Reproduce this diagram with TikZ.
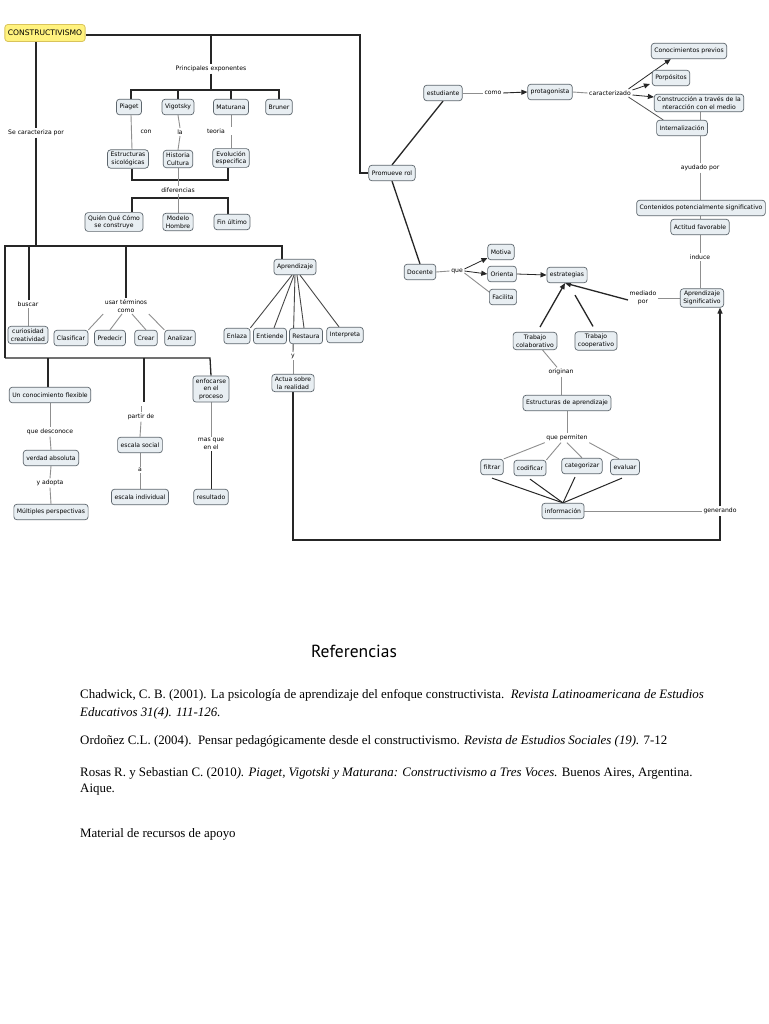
\documentclass[tikz,border=0pt]{standalone}
\usepackage{fontspec}
\setmainfont{Liberation Serif}
\newfontfamily\dv{DejaVu Sans}
\newfontfamily\hd{PT Sans}
\usetikzlibrary{arrows.meta,calc,backgrounds}
\definecolor{fl}{HTML}{E8EEF2}
\definecolor{bd}{HTML}{5E676E}
\definecolor{yfl}{HTML}{FFF27E}
\definecolor{ybd}{HTML}{D9C35A}
\definecolor{dk}{HTML}{262626}
\definecolor{gr}{HTML}{8F8F8F}
\tikzset{
  cbox/.style={draw=bd, fill=fl, rounded corners=3pt, font=\dv\fontsize{6.1}{7.6}\selectfont, inner xsep=3pt, inner ysep=2.5pt, align=center, minimum height=15.5pt, line width=0.7pt},
  lab/.style={font=\dv\fontsize{6.1}{7.6}\selectfont, inner sep=1.5pt, align=center},
  blk/.style={draw=dk, line width=1.3pt},
  gry/.style={draw=gr, line width=0.9pt},
  arr/.style={-{Triangle[length=6pt,width=5pt]}},
  refl/.style={anchor=base west, inner sep=0pt, font=\fontsize{12.9}{15}\selectfont}
}
\begin{document}
\begin{tikzpicture}[x=1pt,y=-1pt]
\useasboundingbox (0,0) rectangle (768,1024);

% ---------- nodes ----------
\node[draw=ybd, fill=yfl, rounded corners=3pt, line width=0.8pt, font=\dv\fontsize{7.6}{9}\selectfont, inner xsep=3pt, minimum height=17pt] (c) at (45,33) {CONSTRUCTIVISMO};
\node[lab] (pe) at (211,69) {Principales exponentes};
\node[cbox] (piaget) at (129,107) {Piaget};
\node[cbox] (vig) at (178,107) {Vigotsky};
\node[cbox] (mat) at (231,107) {Maturana};
\node[cbox] (bru) at (279,107) {Bruner};
\node[lab] (con) at (146,132) {con};
\node[lab] (la) at (180,132) {la};
\node[lab] (teo) at (216,131) {teoria};
\node[cbox] (est) at (128,159) {Estructuras\\sicológicas};
\node[cbox] (hist) at (178,159) {Historia\\Cultura};
\node[cbox] (evo) at (231,158) {Evolución\\especifica};
\node[lab] (dif) at (178,190) {diferencias};
\node[cbox] (quien) at (114,222) {Quién Qué Cómo\\se construye};
\node[cbox] (modelo) at (178,222) {Modelo\\Hombre};
\node[cbox] (fin) at (232,222) {Fin último};
\node[lab] (scp) at (36,133) {Se caracteriza por};

\node[lab] (buscar) at (28,304) {buscar};
\node[cbox] (curi) at (28,335) {curiosidad\\creatividad};
\node[lab] (usar) at (126,306) {usar términos\\como};
\node[cbox] (clas) at (71,338) {Clasificar};
\node[cbox] (pred) at (110,338) {Predecir};
\node[cbox] (crear) at (146,338) {Crear};
\node[cbox] (anal) at (180,338) {Analizar};
\node[cbox] (apr) at (295,267) {Aprendizaje};
\node[cbox] (enl) at (237,336) {Enlaza};
\node[cbox] (ent) at (270,336) {Entiende};
\node[cbox] (rest) at (306,336) {Restaura};
\node[cbox] (interp) at (345,335) {Interpreta};
\node[lab] (ylab) at (293,356) {y};
\node[cbox] (actua) at (293,383) {Actua sobre\\la realidad};

\node[cbox] (ucf) at (50,395) {Un conocimiento flexible};
\node[lab] (qd) at (50,432) {que desconoce};
\node[cbox] (verdad) at (51,458) {verdad absoluta};
\node[lab] (ya) at (50,483) {y adopta};
\node[cbox] (mult) at (51,512) {Múltiples perspectivas};
\node[lab] (partir) at (141,417) {partir de};
\node[cbox] (esoc) at (140,445) {escala social};
\node[lab] (alab) at (140,470) {a};
\node[cbox] (eind) at (140,497) {escala individual};
\node[cbox] (enf) at (211,389) {enfocarse\\en el\\proceso};
\node[lab] (mq) at (211,444) {mas que\\en el};
\node[cbox] (res) at (211,497) {resultado};

\node[cbox] (prom) at (392,173) {Promueve rol};
\node[cbox] (estu) at (443,93) {estudiante};
\node[lab] (como) at (493,93) {como};
\node[cbox] (prot) at (550,92) {protagonista};
\node[lab] (car) at (610,93) {caracterizado};
\node[cbox] (cp) at (689,51) {Conocimientos previos};
\node[cbox] (porp) at (671,78) {Porpósitos};
\node[cbox] (constr) at (699,103) {Construcción a través de la\\nteracción con el medio};
\node[cbox] (intern) at (682,128) {Internalización};
\node[lab] (aypor) at (700,168) {ayudado por};
\node[cbox] (cont) at (701,208) {Contenidos potencialmente significativo};
\node[cbox] (act) at (700,227) {Actitud favorable};
\node[lab] (induce) at (700,257) {induce};
\node[cbox] (asig) at (702,298) {Aprendizaje\\Significativo};

\node[cbox] (doc) at (420,272) {Docente};
\node[lab] (que) at (457,271) {que};
\node[cbox] (motiva) at (501,252) {Motiva};
\node[cbox] (orienta) at (502,274) {Orienta};
\node[cbox] (facilita) at (503,297) {Facilita};
\node[cbox] (estr) at (567,275) {estrategias};
\node[lab] (mp) at (643,298) {mediado\\por};
\node[cbox] (tcol) at (535,341) {Trabajo\\colaborativo};
\node[cbox] (tcoop) at (596,341) {Trabajo\\cooperativo};
\node[lab] (orig) at (561,372) {originan};
\node[cbox] (estap) at (567,403) {Estructuras de aprendizaje};
\node[lab] (qp) at (567,438) {que permiten};
\node[cbox] (filt) at (492,467) {filtrar};
\node[cbox] (cod) at (530,468) {codificar};
\node[cbox] (cat) at (582,466) {categorizar};
\node[cbox] (eval) at (625,467) {evaluar};
\node[cbox] (inf) at (563,511) {información};
\node[lab] (gen) at (720,511) {generando};

% ---------- junction coordinates ----------
\coordinate (jR) at (360,35);
\coordinate (jPE) at (211,35);
\coordinate (b1) at (0,90);
\coordinate (b2) at (0,180);
\coordinate (b3) at (0,198);
\coordinate (h1) at (0,246);
\coordinate (jL) at (5,246);
\coordinate (jL2) at (5,358);
\coordinate (jB) at (29,246);
\coordinate (jU) at (126,246);
\coordinate (jA) at (282,246);
\coordinate (jU2) at (48,358);
\coordinate (jP) at (144,358);
\coordinate (jE) at (210,358);
\coordinate (bot) at (0,540);

% ---------- connectors ----------
\begin{scope}[on background layer]
\fill[white] (0,0) rectangle (768,1024);
\draw[blk] (c.east |- jR) -- (jR) |- (prom.west);
\draw[blk] (jPE) -- (pe.north);
\draw[blk] (pe.south) -- (pe.south |- b1);
\draw[blk] ([xshift=2pt]piaget.north) |- (bru.north |- b1) -- (bru.north);
\draw[blk] (vig.north) -- (vig.north |- b1);
\draw[blk] (mat.north) -- (mat.north |- b1);
\draw[gry] ([xshift=2pt]piaget.south) -- ([xshift=4pt]est.north);
\draw[gry] (vig.south) -- (la.north);
\draw[gry] (la.south) -- (hist.north);
\draw[gry] (mat.south) -- (teo.north -| mat.south);
\draw[gry] (teo.south -| mat.south) -- (evo.north);
\draw[blk] ([xshift=4pt]est.south) |- ([xshift=-3pt]evo.south |- b2) -- ([xshift=-3pt]evo.south);
\draw[gry] (hist.south) -- (dif.north);
\draw[blk] ([xshift=18pt]quien.north) |- ([xshift=-4pt]fin.north |- b3) -- ([xshift=-4pt]fin.north);
\draw[gry] (dif.south) -- (modelo.north);

\draw[blk] (scp.north |- c.south) -- (scp.north);
\draw[blk] (scp.south) -- (scp.south |- h1);
\draw[blk] (jL2) -- (jL) -- (jA) -- (apr.north -| jA);
\draw[blk] (jB) -- (buscar.north -| jB);
\draw[gry] (buscar.south) -- (curi.north);
\draw[blk] (jU) -- (usar.north);
\draw[gry] (usar.south west) -- (clas.north east);
\draw[gry] ([xshift=-4pt]usar.south) -- (pred.north);
\draw[gry] ([xshift=6pt]usar.south) -- (crear.north);
\draw[gry] (usar.south east) -- (anal.north west);
\draw[dk!85, line width=0.9pt] ([xshift=-3pt]apr.south) -- (enl.north east);
\draw[dk!85, line width=0.9pt] ([xshift=-1pt]apr.south) -- ([xshift=4pt]ent.north);
\draw[dk!85, line width=0.9pt] (apr.south) -- (ylab.north);
\draw[dk!85, line width=0.9pt] ([xshift=2pt]apr.south) -- ([xshift=-2pt]rest.north);
\draw[dk!85, line width=0.9pt] ([xshift=5pt]apr.south) -- ([xshift=-6pt]interp.north);
\draw[gry] (ylab.south) -- (actua.north);

\draw[blk] (jL2) -- (jE) -- (enf.north);
\draw[blk] (jU2) -- (ucf.north -| jU2);
\draw[blk] (jP) -- ([yshift=-44pt]jP);
\draw[gry] (partir.north) -- ++(0,-6);
\draw[gry] (partir.south) -- (esoc.north);
\draw[gry] (esoc.south) -- (alab.north);
\draw[gry] (alab.south) -- (eind.north);
\draw[gry] (ucf.south) -- (qd.north);
\draw[gry] (qd.south) -- (verdad.north);
\draw[gry] (verdad.south) -- (ya.north);
\draw[gry] (ya.south) -- (mult.north);
\draw[gry] (enf.south) -- (mq.north);
\draw[blk, line width=1pt] (mq.south) -- (res.north);

\draw[blk, line width=1.1pt] (actua.south) -- (actua.south |- bot) -| (gen.south);
\draw[blk, line width=1.1pt, arr] (gen.north) -- (gen.north |- asig.south);
\draw[gry] (inf.east) -- (gen.west);

\draw[blk] (prom.north) -- (estu.south);
\draw[blk] (prom.south) -- (doc.north);
\draw[gry] (estu.east) -- (como.west);
\draw[blk, line width=0.9pt, arr] (como.east) -- (prot.west);
\draw[gry] (prot.east) -- (car.west);
\draw[dk, line width=0.8pt, arr] ([xshift=-4pt]car.north east) -- ($(cp.south west)!0.26!(cp.south east)$);
\draw[dk, line width=0.8pt, arr] ([yshift=3pt]car.east) -- ([yshift=-6pt, xshift=-2pt]porp.west);
\draw[dk, line width=0.8pt, arr] ([yshift=-2pt]car.east) -- ([yshift=6pt]constr.west);
\draw[dk!80, line width=0.8pt] ([xshift=-4pt]car.south east) -- ([xshift=7pt]intern.north west);
\draw[gry] (intern.north -| aypor) -- (constr.south -| aypor);
\draw[gry] (intern.south -| aypor) -- (aypor.north);
\draw[gry] (aypor.south) -- (cont.north -| aypor);
\draw[gry] (cont.south -| act) -- (act.north);
\draw[gry] (act.south) -- (induce.north);
\draw[gry] (induce.south) -- (asig.north -| induce);

\draw[gry] (doc.east) -- (que.west);
\draw[dk, line width=0.8pt, arr] ([yshift=2pt]que.east) -- ([yshift=-6pt]motiva.west);
\draw[dk, line width=0.8pt, arr] (que.east) -- (orienta.west);
\draw[gry] ([yshift=-2pt]que.east) -- ([yshift=-3pt]facilita.north west);
\draw[dk, line width=0.8pt, arr] (orienta.east) -- (estr.west);
\draw[gry] (asig.west) -- (mp.east);
\draw[blk, arr] ([yshift=-2pt]mp.west) -- ([xshift=-2pt]estr.south);
\draw[blk, arr] ([xshift=5pt, yshift=5pt]tcol.north) -- ([xshift=-2pt]estr.south);
\draw[blk] ([xshift=-3pt, yshift=5pt]tcoop.north) -- ([xshift=8pt, yshift=-12pt]estr.south);
\draw[gry] (tcol) -- (orig);
\draw[gry] (orig.south) -- (estap.north -| orig);
\draw[gry] (estap.south) -- (qp.north);
\draw[gry] (qp.south west) -- (filt.north east);
\draw[gry] ([xshift=-6pt]qp.south) -- (cod.north east);
\draw[gry] (qp.south) -- (cat.north);
\draw[gry] (qp.south east) -- ([xshift=-6pt]eval.north);
\draw[blk, line width=1pt] ([yshift=-3pt]filt.south) -- (inf.north);
\draw[blk, line width=1pt] ([yshift=-3pt]cod.south) -- (inf.north);
\draw[blk, line width=1pt] ([yshift=-3pt, xshift=-7pt]cat.south) -- (inf.north);
\draw[blk, line width=1pt] ([yshift=-3pt, xshift=-3pt]eval.south) -- (inf.north);
\end{scope}

% ---------- references ----------
\node[font=\hd\fontsize{17.5}{20}\selectfont, inner sep=0pt] (refh) at (354,651) {Referencias};
\node[refl] (r1) at (80,698) {Chadwick, C. B. (2001). La psicología de aprendizaje del enfoque constructivista.\ \ \textit{Revista Latinoamericana de Estudios}};
\node[refl] (r1b) at (80,716) {\textit{Educativos 31(4). 111-126.}};
\node[refl] (r2) at (80,744) {Ordoñez C.L. (2004).\ \ Pensar pedagógicamente desde el constructivismo. \textit{Revista de Estudios Sociales (19).} 7-12};
\node[refl] (r3) at (80,776) {Rosas R. y Sebastian C. (2010\textit{). Piaget, Vigotski y Maturana: Constructivismo a Tres Voces.} Buenos Aires, Argentina.};
\node[refl] (r3b) at (80,792) {Aique.};
\node[refl] (r4) at (80,837) {Material de recursos de apoyo};
\end{tikzpicture}
\end{document}
